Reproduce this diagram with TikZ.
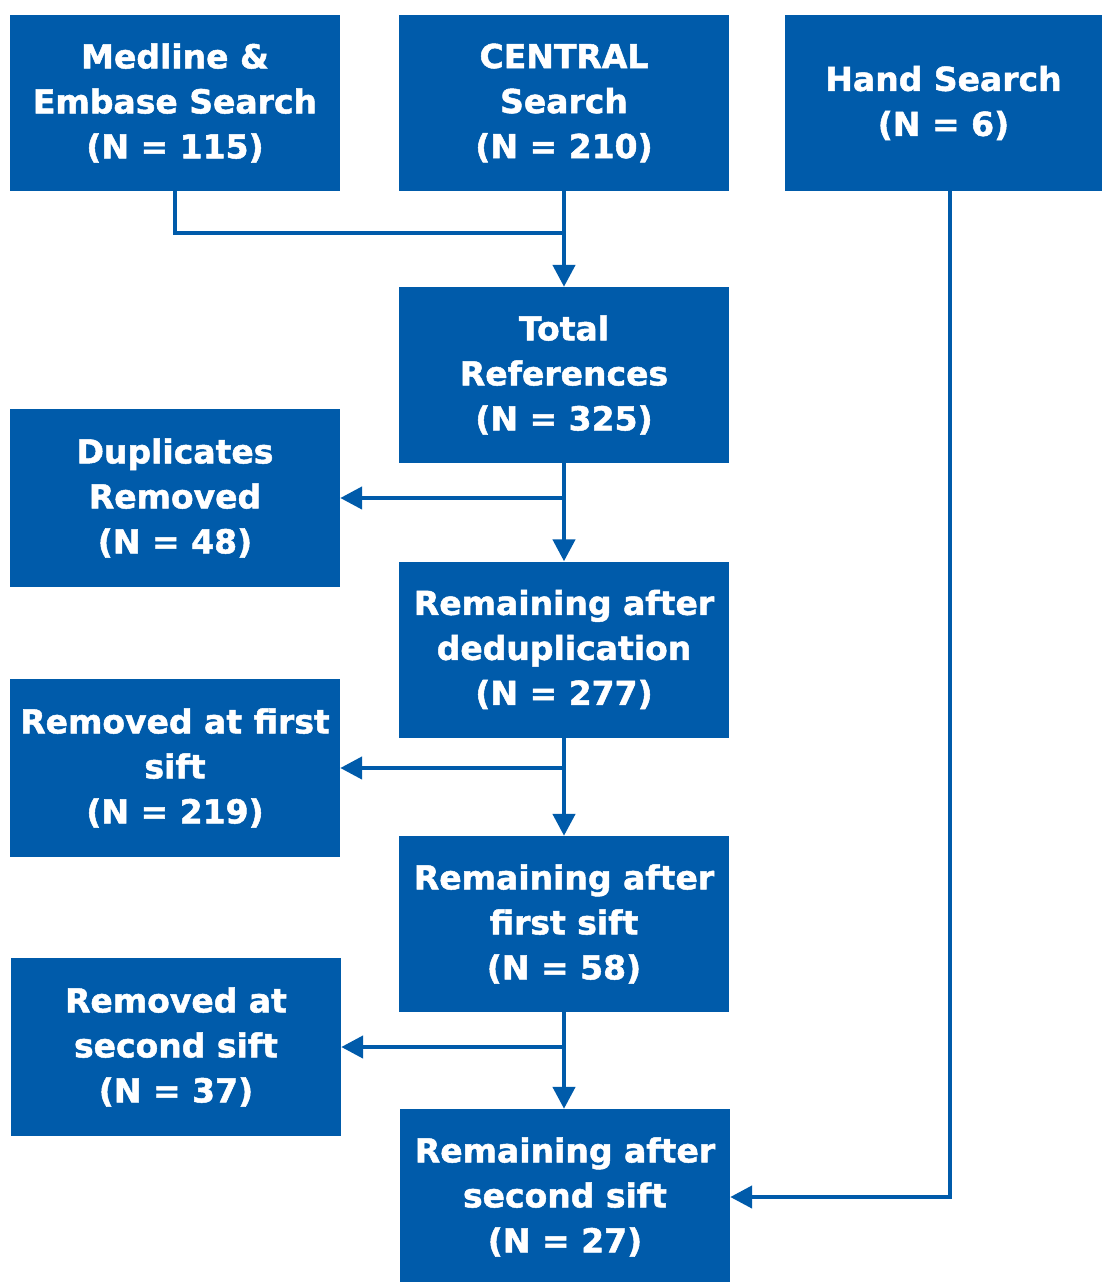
\documentclass[tikz,border=0pt]{standalone}
\usepackage{fontspec}
\setmainfont{DejaVu Sans}[BoldFeatures={FakeBold=1.5}]
\usetikzlibrary{arrows.meta}
\definecolor{boxblue}{RGB}{0,91,170}
\tikzset{
  box/.style={fill=boxblue, text=white, align=center, inner sep=0pt,
    minimum width=330pt, minimum height=176pt,
    font=\bfseries\fontsize{33}{45}\selectfont},
  conn/.style={draw=boxblue, line width=4.5pt},
  arr/.style={conn, -{Triangle[length=22pt,width=22pt]}}
}
\begin{document}
\begin{tikzpicture}[x=1pt,y=-1pt]
\useasboundingbox (0,0) rectangle (1102,1282);
\node[box] (med) at (175,103) {Medline \&\\Embase Search\\(N = 115)};
\node[box] (central) at (564,103) {CENTRAL\\Search\\(N = 210)};
\node[box, minimum width=317pt] (hand) at (943.5,103) {Hand Search\\(N = 6)};
\node[box] (total) at (564,375) {Total\\References\\(N = 325)};
\node[box, minimum height=178pt] (dup) at (175,498) {Duplicates\\Removed\\(N = 48)};
\node[box] (rem0) at (564,649.5) {Remaining after\\deduplication\\(N = 277)};
\node[box, minimum height=178pt] (rm1) at (175,768) {Removed at first\\sift\\(N = 219)};
\node[box] (rem1) at (564,924) {Remaining after\\first sift\\(N = 58)};
\node[box, minimum height=178pt] (rm2) at (176,1047) {Removed at\\second sift\\(N = 37)};
\node[box] (rem2) at (565,1197) {Remaining after\\second sift\\(N = 27)};
\coordinate (join) at (564,233);
\draw[conn] (med.south) |- (join);
\draw[arr] (central.south) -- (total.north);
\draw[arr] (total.south) -- (rem0.north);
\draw[arr] (total.south |- dup.east) -- (dup.east);
\draw[arr] (rem0.south) -- (rem1.north);
\draw[arr] (rem0.south |- rm1.east) -- (rm1.east);
\draw[arr] (rem1.south) -- (rem1.south |- rem2.north);
\draw[arr] (rem1.south |- rm2.east) -- (rm2.east);
\draw[arr] ([xshift=6.5pt]hand.south) |- (rem2.east);
\end{tikzpicture}
\end{document}
